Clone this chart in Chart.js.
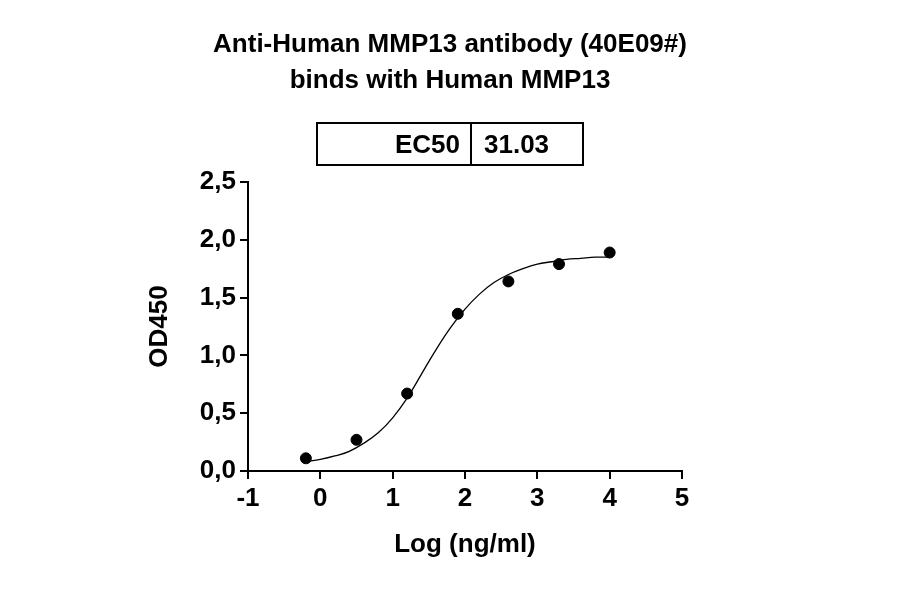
<!DOCTYPE html>
<html><head><meta charset="utf-8">
<script src="https://cdn.jsdelivr.net/npm/chart.js@4"></script>
<style>
body{margin:0;background:#fff;font-family:Arial,"Liberation Sans",sans-serif;}
#wrap{position:relative;width:900px;height:594px;}
#title{position:absolute;top:25px;left:0;width:900px;text-align:center;font-weight:bold;font-size:26px;line-height:36px;}
#ec{position:absolute;left:316px;top:122px;width:264px;height:40px;border:2px solid #000;display:flex;font-weight:bold;font-size:26px;}
#ec div{display:flex;align-items:center;}
</style></head><body>
<div id="wrap">
<canvas id="c" width="900" height="594"></canvas>
<div id="title">Anti-Human MMP13 antibody (40E09#)<br>binds with Human MMP13</div>
<div id="ec"><div style="width:152px;border-right:2px solid #000;justify-content:flex-end;"><span style="margin-right:10px">EC50</span></div><div style="padding-left:12px">31.03</div></div>
</div>
<script>
// measured points
const logConc = [-0.2, 0.5, 1.2, 1.9, 2.6, 3.3, 4.0];
const od450 = [0.11, 0.27, 0.67, 1.36, 1.64, 1.79, 1.89];
// fitted curve
const curveX = [-0.2,0,0.2,0.4,0.6,0.8,1.0,1.2,1.4,1.6,1.8,2.0,2.2,2.4,2.6,2.8,3.0,3.2,3.4,3.6,3.8,4.0];
const curveY = [0.08,0.10,0.13,0.17,0.24,0.33,0.46,0.63,0.84,1.05,1.24,1.40,1.53,1.63,1.70,1.75,1.79,1.81,1.83,1.84,1.85,1.85];

const tickFont = {family:'Arial, "Liberation Sans", sans-serif', size:26, weight:'bold'};
new Chart(document.getElementById('c'), {
  type: 'scatter',
  data: {
    datasets: [
      {data: logConc.map((x,i)=>({x, y: od450[i]})), backgroundColor:'#000', borderColor:'#000', pointRadius:5.5},
      {type:'line', data: curveX.map((x,i)=>({x, y: curveY[i]})), borderColor:'#000', borderWidth:1.3, pointRadius:0, tension:0.4, fill:false}
    ]
  },
  options: {
    responsive:false, animation:false,
    plugins:{legend:{display:false}, tooltip:{enabled:false}},
    layout:{padding:{left:140, top:182, right:218, bottom:30}},
    scales:{
      x:{type:'linear', min:-1, max:5,
        ticks:{stepSize:1, color:'#000', font:tickFont, padding:4},
        grid:{drawOnChartArea:false, color:'#000', lineWidth:2, tickLength:8},
        border:{color:'#000', width:2},
        title:{display:true, text:'Log (ng/ml)', color:'#000', font:tickFont, padding:{top:12}},
        afterFit: s => { s.height = 93; }
      },
      y:{min:0, max:2.5,
        ticks:{stepSize:0.5, color:'#000', font:tickFont, padding:4, callback: v => v.toFixed(1).replace('.', ',')},
        grid:{drawOnChartArea:false, color:'#000', lineWidth:2, tickLength:8},
        border:{color:'#000', width:2},
        title:{display:true, text:'OD450', color:'#000', font:tickFont, padding:{bottom:8}},
        afterFit: s => { s.width = 108; }
      }
    }
  }
});
</script>
</body></html>
